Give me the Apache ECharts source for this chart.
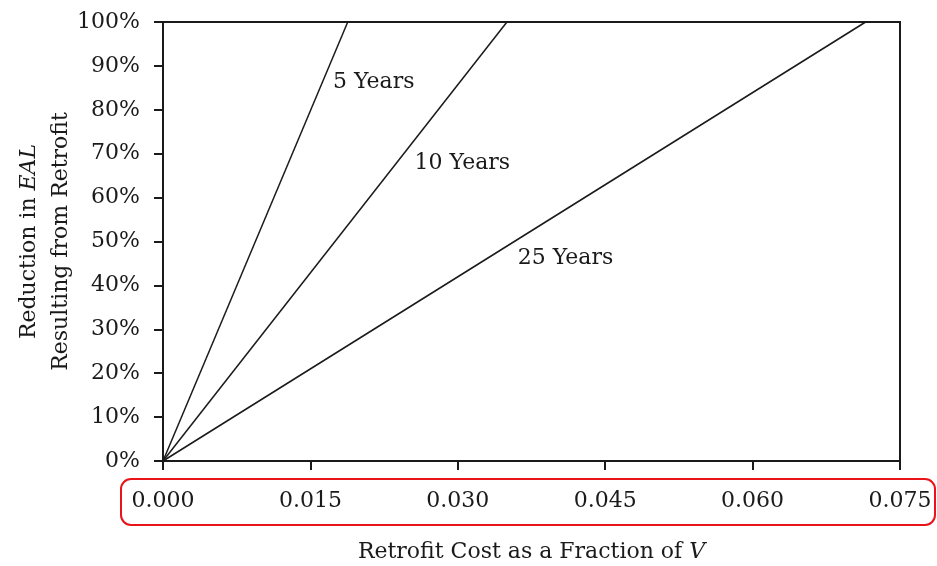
<!DOCTYPE html>
<html>
<head>
<meta charset="utf-8">
<script src="https://cdn.jsdelivr.net/npm/echarts@6/dist/echarts.min.js"></script>
<style>
  html, body { margin: 0; padding: 0; background: #fff; }
  #chart { width: 937px; height: 566px; }
</style>
</head>
<body>
<div id="chart"></div>
<script>
// Payback horizons and where each break-even line reaches 100% reduction
const horizons = ['5 Years', '10 Years', '25 Years'];
const costAtFullReduction = [0.0188, 0.0350, 0.0715];

// Label anchor for each horizon (data coordinates: cost, reduction)
const labelAnchors = [[0.0173, 0.863], [0.0256, 0.679], [0.0361, 0.462]];

// Axis ticks
const xTicks = { min: 0, max: 0.075, step: 0.015 };
const yTicks = { min: 0, max: 1, step: 0.1 };

const FONT = '"DejaVu Serif", "Liberation Serif", serif';
const FS = 22;
const INK = '#1a1a1a';

const lineSeries = horizons.map((name, i) => ({
  name: name,
  type: 'line',
  data: [[0, 0], [costAtFullReduction[i], 1]],
  symbol: 'none',
  lineStyle: { color: INK, width: 1.5 },
  silent: true
}));

const labelSeries = {
  type: 'scatter',
  data: labelAnchors.map((p, i) => ({ value: p, name: horizons[i] })),
  symbolSize: 0,
  itemStyle: { opacity: 1 },
  silent: true,
  label: {
    show: true,
    position: 'right',
    distance: 0,
    formatter: p => p.name,
    fontFamily: FONT,
    fontSize: FS,
    color: INK,
    opacity: 1
  }
};

const chart = echarts.init(document.getElementById('chart'), null, { renderer: 'canvas' });
chart.setOption({
  animation: false,
  backgroundColor: '#fff',
  grid: {
    left: 163, right: 37, top: 22, bottom: 105,
    containLabel: false,
    outerBoundsMode: 'none',
    show: true, borderColor: INK, borderWidth: 2
  },
  xAxis: {
    type: 'value',
    min: xTicks.min, max: xTicks.max, interval: xTicks.step,
    name: 'Retrofit Cost as a Fraction of {i|V}',
    nameLocation: 'middle',
    nameGap: 80,
    nameMoveOverlap: false,
    nameTextStyle: {
      fontFamily: FONT, fontSize: FS, color: INK,
      rich: { i: { fontFamily: FONT, fontSize: FS, fontStyle: 'italic', color: INK } }
    },
    axisLine: { show: true, lineStyle: { color: INK, width: 2 } },
    axisTick: { show: true, inside: false, length: 9, lineStyle: { color: INK, width: 2 } },
    axisLabel: {
      fontFamily: FONT, fontSize: FS, color: INK, margin: 29,
      formatter: v => v.toFixed(3)
    },
    splitLine: { show: false }
  },
  yAxis: {
    type: 'value',
    min: yTicks.min, max: yTicks.max, interval: yTicks.step,
    name: 'Reduction in {i|EAL}\nResulting from Retrofit',
    nameLocation: 'middle',
    nameRotate: 90,
    nameGap: 86,
    nameMoveOverlap: false,
    nameTextStyle: {
      fontFamily: FONT, fontSize: FS, color: INK, lineHeight: 32, align: 'center',
      rich: { i: { fontFamily: FONT, fontSize: FS, fontStyle: 'italic', color: INK } }
    },
    axisLine: { show: true, lineStyle: { color: INK, width: 2 } },
    axisTick: { show: true, inside: false, length: 9, lineStyle: { color: INK, width: 2 } },
    axisLabel: {
      fontFamily: FONT, fontSize: FS, color: INK, margin: 23,
      formatter: v => Math.round(v * 100) + '%'
    },
    splitLine: { show: false }
  },
  graphic: [{
    type: 'rect',
    shape: { x: 121, y: 479, width: 814, height: 46, r: 10 },
    style: { fill: 'none', stroke: '#e8141a', lineWidth: 2 },
    silent: true
  }],
  series: lineSeries.concat([labelSeries])
});
</script>
</body>
</html>
